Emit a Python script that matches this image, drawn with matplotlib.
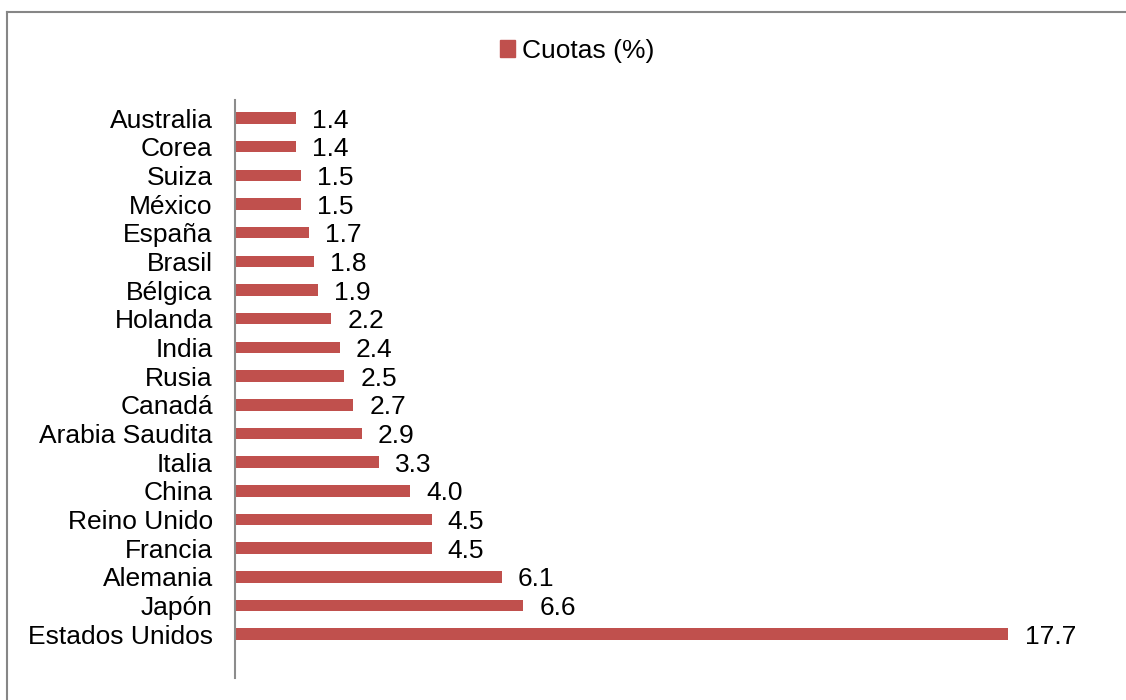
import matplotlib.pyplot as plt
from matplotlib.lines import Line2D
from matplotlib.patches import Patch

plt.rcParams['font.family'] = ['Liberation Sans', 'DejaVu Sans']

paises = ["Estados Unidos", "Japón", "Alemania", "Francia", "Reino Unido", "China",
          "Italia", "Arabia Saudita", "Canadá", "Rusia", "India", "Holanda", "Bélgica",
          "Brasil", "España", "México", "Suiza", "Corea", "Australia"]
cuotas = [17.7, 6.6, 6.1, 4.5, 4.5, 4.0, 3.3, 2.9, 2.7, 2.5, 2.4, 2.2, 1.9,
          1.8, 1.7, 1.5, 1.5, 1.4, 1.4]

color = "#C0504D"
fs = 19

fig = plt.figure(figsize=(11.26, 7), dpi=100)
ax = fig.add_axes([235 / 1126, 22 / 700, (1109 - 235) / 1126, (678 - 100) / 700])

pos = list(range(len(paises)))
ax.barh(pos, cuotas, height=0.4, color=color)
for y, v in zip(pos, cuotas):
    ax.text(v + 0.37, y, f"{v:.1f}", va="center_baseline", ha="left", fontsize=fs)

ax.set_yticks(pos)
ax.set_yticklabels(paises, fontsize=fs, va="center_baseline")
ax.set_ylim(-1.53, 18.63)
ax.set_xlim(0, 20)
ax.set_xticks([])
ax.tick_params(axis="y", length=0, pad=16)
for s in ["top", "right", "bottom"]:
    ax.spines[s].set_visible(False)
ax.spines["left"].set_color("#8c8c8c")
ax.spines["left"].set_linewidth(1.5)

fig.legend(handles=[Patch(color=color, label="Cuotas (%)")], loc="center",
           bbox_to_anchor=(577 / 1126, 1 - 51 / 700), frameon=False,
           fontsize=fs, handlelength=0.6, handleheight=0.6, handletextpad=0.25)

# chart border (top and left edges)
fig.add_artist(Line2D([7 / 1126, 7 / 1126], [0, 1 - 12 / 700], transform=fig.transFigure,
                      color="#868686", lw=1.5))
fig.add_artist(Line2D([7 / 1126, 1], [1 - 12 / 700, 1 - 12 / 700], transform=fig.transFigure,
                      color="#868686", lw=1.5))

fig.savefig("out.png", dpi=100)
